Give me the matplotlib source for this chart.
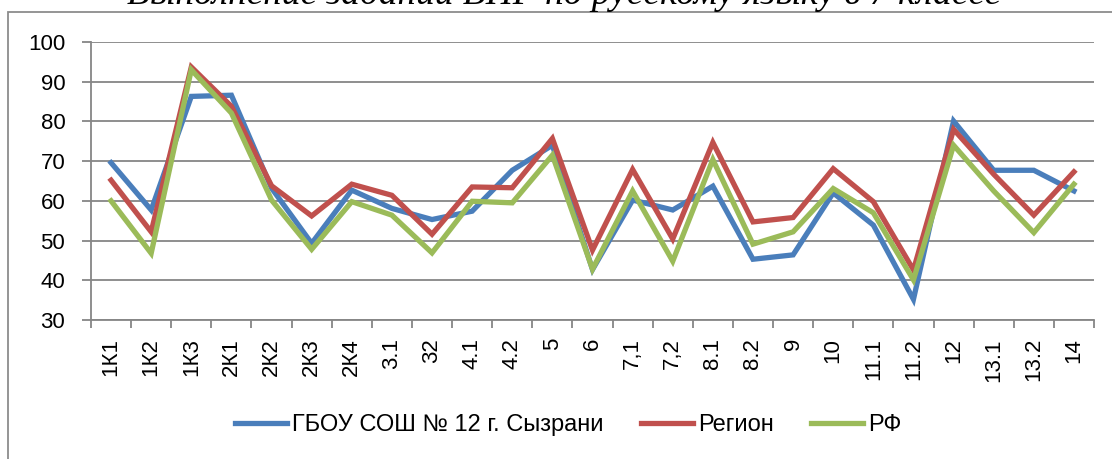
import matplotlib.pyplot as plt
from matplotlib.patches import Rectangle
import numpy as np

title = 'Выполнение заданий ВПР по русскому языку в 7 классе'
tasks = ['1К1', '1К2', '1К3', '2К1', '2К2', '2К3', '2К4', '3.1', '32', '4.1', '4.2', '5', '6',
         '7,1', '7,2', '8.1', '8.2', '9', '10', '11.1', '11.2', '12', '13.1', '13.2', '14']
school = [69.6, 57.7, 86.3, 86.6, 63.2, 49.3, 62.7, 58.1, 55.3, 57.4, 67.7, 74.0, 42.7,
          60.2, 57.7, 63.7, 45.3, 46.4, 62.0, 53.9, 35.2, 80.1, 67.7, 67.7, 62.5]
region = [65.2, 52.2, 93.7, 83.8, 63.8, 56.2, 64.2, 61.4, 51.6, 63.5, 63.3, 75.7, 47.6,
          67.9, 50.4, 74.7, 54.7, 55.8, 68.1, 59.8, 42.6, 78.0, 66.7, 56.4, 67.3]
rf = [60.0, 46.8, 93.0, 82.1, 60.2, 47.8, 59.8, 56.4, 46.9, 59.9, 59.5, 71.5, 42.8,
      62.5, 44.8, 70.4, 49.1, 52.2, 63.1, 57.0, 40.1, 74.0, 62.5, 52.0, 64.2]
series_names = ['ГБОУ СОШ № 12 г. Сызрани', 'Регион', 'РФ']
colors = ['#4A7EBB', '#C0504D', '#9BBB59']

plt.rcParams['font.family'] = ['Liberation Sans', 'DejaVu Sans']

fig = plt.figure(figsize=(11.12, 4.59), dpi=100)
ax = fig.add_axes([91 / 1112, 1 - 320 / 459, (1094 - 91) / 1112, (320 - 42) / 459])

# chart frame (runs off the right and bottom edges like the original screenshot)
fig.patches.append(Rectangle((8 / 1112, -0.1), 1.2, 1 - 12 / 459 + 0.1, transform=fig.transFigure,
                             fill=False, edgecolor='#8C8C8C', linewidth=1.3))

fig.text(0.507, 1 - 4 / 459, title, ha='center', va='baseline', fontsize=26.9,
         family='Liberation Serif', style='italic')

xs = np.arange(len(tasks))
for vals, name, c in zip([school, region, rf], series_names, colors):
    ax.plot(xs, vals, color=c, lw=3.8, label=name, solid_joinstyle='miter')

ax.set_xlim(-0.5, len(tasks) - 0.5)
ax.set_ylim(30, 100)
ax.set_yticks(range(30, 101, 10))
ax.yaxis.grid(True, color='#868686', lw=1.3)
ax.set_axisbelow(True)
ax.set_xticks(xs)
ax.set_xticklabels(tasks, rotation=90, fontsize=16)
ax.set_xticks(np.arange(-0.5, len(tasks)), minor=True)
ax.tick_params(axis='x', which='major', length=0, pad=13)
ax.tick_params(axis='x', which='minor', length=6, color='#868686', width=1.3)
ax.tick_params(axis='y', length=6.5, color='#868686', width=1.3, labelsize=16, pad=12)
for side in ['top', 'right']:
    ax.spines[side].set_visible(False)
for side in ['left', 'bottom']:
    ax.spines[side].set_color('#868686')
    ax.spines[side].set_linewidth(1.3)

fig.legend(loc='center', bbox_to_anchor=(0.511, 1 - 425 / 459), ncol=3, frameon=False,
           fontsize=17, handlelength=2.2, handletextpad=0.2, columnspacing=1.6)

fig.savefig('out.png', dpi=100)
